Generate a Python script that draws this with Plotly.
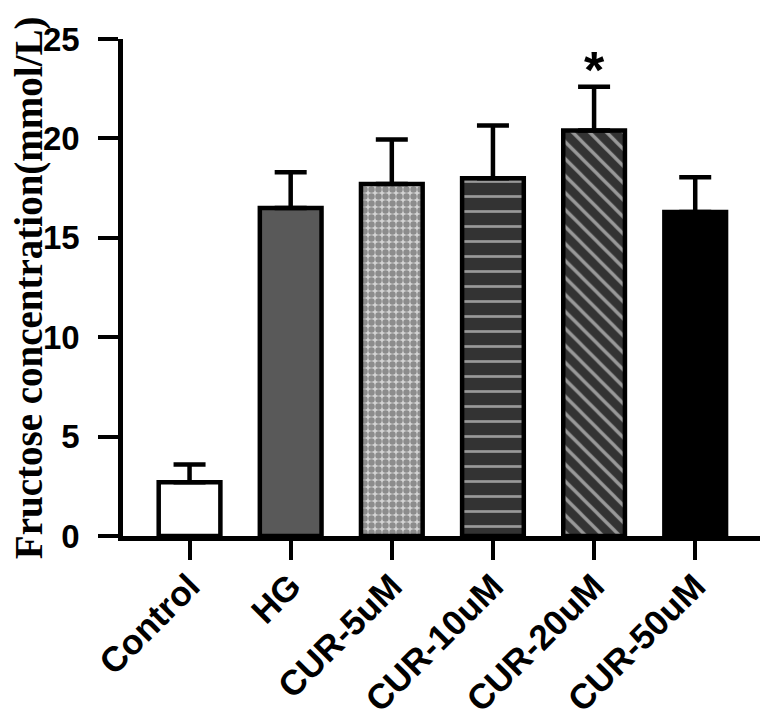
import plotly.graph_objects as go

# Data
groups = ["Control", "HG", "CUR-5uM", "CUR-10uM", "CUR-20uM", "CUR-50uM"]
means = [2.7, 16.5, 17.7, 18.0, 20.4, 16.3]
sd_up = [0.9, 1.8, 2.25, 2.65, 2.2, 1.75]
star_group = ["CUR-20uM"]
star_y = [23.2]
y_title = "Fructose concentration(mmol/L)"

# Fill styling per bar
bg_colors = ["white", "#595959", "#d4d4d4", "#333333", "#333333", "black"]
fg_colors = ["white", "#595959", "#4d4d4d", "white", "white", "black"]
shapes = ["", "", ".", "-", "\\", ""]
sizes = [8, 8, 7, 15, 12, 8]
solid = [0.3, 0.3, 0.65, 0.18, 0.28, 0.3]

fig = go.Figure()

fig.add_trace(go.Bar(
    x=groups,
    y=means,
    width=0.61,
    marker=dict(
        color=bg_colors,
        line=dict(color="black", width=4.5),
        pattern=dict(shape=shapes, fgcolor=fg_colors, size=sizes,
                     solidity=solid, fillmode="overlay"),
    ),
    error_y=dict(type="data", symmetric=False, array=sd_up,
                 arrayminus=[0] * len(sd_up), color="black",
                 thickness=4.5, width=16),
    showlegend=False,
))

fig.add_trace(go.Scatter(
    x=star_group, y=star_y, mode="text", text=["*"],
    textfont=dict(family="Liberation Sans", size=52, color="black", weight="bold"),
    showlegend=False,
))

# y-axis title as an annotation so it can sit close to the page edge
fig.add_annotation(
    text=y_title, textangle=-90,
    xref="paper", yref="paper", x=-0.147, y=0.5,
    xanchor="center", yanchor="middle", showarrow=False,
    font=dict(family="Liberation Serif", size=39, color="black", weight="bold"),
)

fig.update_layout(
    width=768, height=723,
    margin=dict(l=115, r=11, t=31, b=195),
    plot_bgcolor="white",
    paper_bgcolor="white",
    font=dict(family="Liberation Sans", color="black"),
    xaxis=dict(
        range=[-0.658, 5.69],
        automargin=False,
        showline=True, linecolor="black", linewidth=4.5,
        ticks="outside", ticklen=19, tickwidth=4, tickcolor="black",
        tickangle=-45,
        ticklabelstandoff=-8,
        tickfont=dict(family="Liberation Sans", size=35, weight="bold"),
        showgrid=False, zeroline=False,
    ),
    yaxis=dict(
        range=[0, 25],
        automargin=False,
        tickvals=[0, 5, 10, 15, 20, 25],
        showline=True, linecolor="black", linewidth=4.5,
        ticks="outside", ticklen=20, tickwidth=4, tickcolor="black",
        ticklabelstandoff=12,
        tickfont=dict(family="Liberation Sans", size=33, weight="bold"),
        showgrid=False, zeroline=False,
    ),
)

fig.write_html("out.html")
